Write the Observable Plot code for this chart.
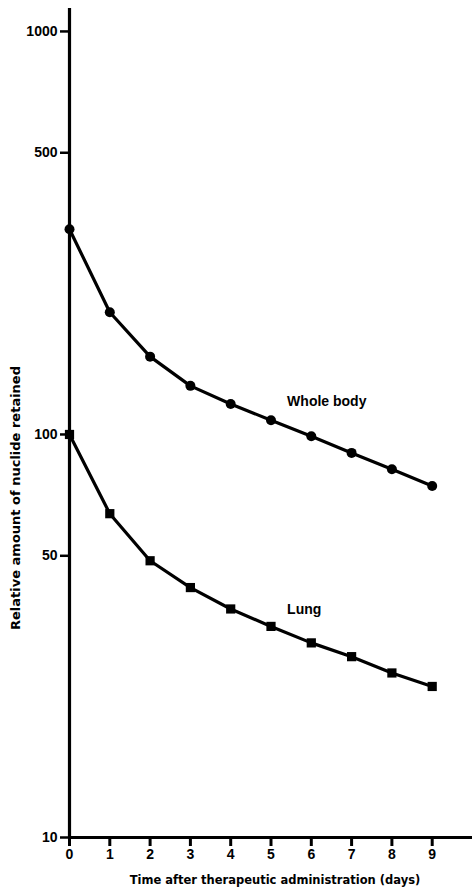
<!DOCTYPE html>
<html>
<head>
<meta charset="utf-8">
<script src="https://cdn.jsdelivr.net/npm/d3@7"></script>
<script src="https://cdn.jsdelivr.net/npm/@observablehq/plot@0.6"></script>
<style>
  html, body { margin: 0; padding: 0; background: #fff; }
  #chart svg { display: block; }
</style>
</head>
<body>
<div id="chart"></div>
<script>
const days = [0, 1, 2, 3, 4, 5, 6, 7, 8, 9];
const wholeBody = [323, 201, 156, 132, 119, 108.5, 99, 90, 82, 74.5];
const lung = [100, 63.6, 48.6, 41.7, 36.9, 33.4, 30.4, 28.1, 25.6, 23.7];
const yTicks = [10, 50, 100, 500, 1000];
const xTicks = [0, 1, 2, 3, 4, 5, 6, 7, 8, 9];
const seriesLabels = [
  {name: "Whole body", day: 5.4, value: 121},
  {name: "Lung", day: 5.4, value: 36.8}
];
const xTitle = "Time after therapeutic administration (days)";
const yTitle = "Relative amount of nuclide retained";

const wb = days.map((d, i) => ({day: d, value: wholeBody[i]}));
const lu = days.map((d, i) => ({day: d, value: lung[i]}));

const font = "'Liberation Sans', Arial, Helvetica, sans-serif";
const wideFont = "'DejaVu Sans', Verdana, sans-serif";

const chart = Plot.plot({
  width: 472,
  height: 893,
  marginLeft: 69,
  marginRight: 0,
  marginTop: 8,
  marginBottom: 56,
  style: {fontFamily: font, color: "#000", background: "#fff"},
  x: {type: "linear", domain: [0, 10]},
  y: {type: "log", domain: [10, 1140]},
  marks: [
    Plot.axisY({ticks: yTicks, tickFormat: d => String(d), tickSize: 9, tickPadding: 3,
      strokeWidth: 2.5, fontSize: 14, fontWeight: "bold", label: null}),
    Plot.axisX({ticks: xTicks, tickFormat: d => String(d), tickSize: 9, tickPadding: 3,
      strokeWidth: 3, fontSize: 14, fontWeight: "bold", label: null}),
    Plot.ruleX([0], {strokeWidth: 3.2}),
    Plot.ruleY([10], {x1: 0, x2: 10, strokeWidth: 3.2}),
    Plot.line(wb, {x: "day", y: "value", strokeWidth: 3.2, stroke: "#000"}),
    Plot.line(lu, {x: "day", y: "value", strokeWidth: 3.2, stroke: "#000"}),
    Plot.dot(wb, {x: "day", y: "value", r: 5, fill: "#000", stroke: null}),
    Plot.dot(lu, {x: "day", y: "value", r: 5.2, symbol: "square", fill: "#000", stroke: null}),
    Plot.text(seriesLabels, {x: "day", y: "value", text: "name", textAnchor: "start",
      fontSize: 14, fontWeight: "bold", fill: "#000"}),
    Plot.text([xTitle], {frameAnchor: "bottom", textAnchor: "middle", lineAnchor: "middle",
      dy: 43, dx: 4, fontSize: 11.5, fontFamily: wideFont, fontWeight: "bold", fill: "#000"}),
    Plot.text([yTitle], {frameAnchor: "left", textAnchor: "middle", lineAnchor: "middle",
      rotate: -90, dx: -54, dy: 75, fontSize: 13, fontFamily: wideFont,
      fontWeight: "bold", fill: "#000"})
  ]
});
document.getElementById("chart").appendChild(chart);
</script>
</body>
</html>
